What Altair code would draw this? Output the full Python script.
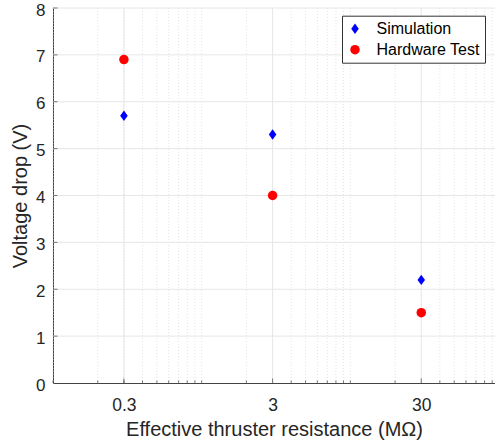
import altair as alt
import pandas as pd

resistance = [0.3, 3, 30]
simulation = [5.7, 5.3, 2.2]
hardware = [6.9, 4.0, 1.5]
series_names = ["Simulation", "Hardware Test"]
minor_grid = [m * 10 ** e for e in (-1, 0, 1) for m in range(1, 10)] + [100]
minor_grid = [v for v in minor_grid if v not in resistance]

df = pd.DataFrame({
    "R": resistance * 2,
    "V": simulation + hardware,
    "Series": [series_names[0]] * 3 + [series_names[1]] * 3,
})
grid_df = pd.DataFrame({"R": minor_grid})
major_df = pd.DataFrame({"R": resistance})
ygrid_df = pd.DataFrame({"V": list(range(1, 9))})

W, H = 442, 375
FONT = "Liberation Sans"
TXT = "#262626"
xscale = alt.Scale(type="log", domain=[0.1, 94])
yscale = alt.Scale(domain=[0, 8])

minor = alt.Chart(grid_df).mark_rule(color="#dcdcdc", strokeDash=[1, 2], strokeWidth=0.8).encode(
    x=alt.X("R:Q", scale=xscale)
)
major = alt.Chart(major_df).mark_rule(color="#e6e6e6", strokeWidth=1).encode(
    x=alt.X("R:Q", scale=xscale)
)
ygrid = alt.Chart(ygrid_df).mark_rule(color="#e6e6e6", strokeWidth=1).encode(
    y=alt.Y("V:Q", scale=yscale)
)
minor_ticks = alt.Chart(grid_df).mark_rule(color="#555555", strokeWidth=0.8).encode(
    x=alt.X("R:Q", scale=xscale), y=alt.value(H), y2=alt.value(H - 2.5)
)
major_ticks = alt.Chart(major_df).mark_rule(color="#555555", strokeWidth=0.8).encode(
    x=alt.X("R:Q", scale=xscale), y=alt.value(H), y2=alt.value(H - 4.5)
)
yticks = alt.Chart(ygrid_df).mark_rule(color="#555555", strokeWidth=0.8).encode(
    y=alt.Y("V:Q", scale=yscale), x=alt.value(0), x2=alt.value(4.5)
)

diamond = "M0,-1L0.72,0L0,1L-0.72,0Z"
points = alt.Chart(df).mark_point(filled=True, opacity=1, strokeWidth=0).encode(
    x=alt.X("R:Q", scale=xscale,
            axis=alt.Axis(values=resistance, format="~g", title="Effective thruster resistance (MΩ)",
                          grid=False, ticks=False, labelFontSize=17.5, titleFontSize=20,
                          titleFontWeight="normal",
                          labelColor=TXT, titleColor=TXT, labelFont=FONT, titleFont=FONT,
                          domainColor="#444444", labelPadding=13, titlePadding=6)),
    y=alt.Y("V:Q", scale=yscale,
            axis=alt.Axis(values=list(range(0, 9)), title="Voltage drop (V)", grid=False, ticks=False,
                          labelFontSize=17, labelOffset=2, titleFontSize=20, titleFontWeight="normal",
                          labelColor=TXT, titleColor=TXT,
                          labelFont=FONT, titleFont=FONT, domainColor="#444444",
                          labelPadding=8, titlePadding=5)),
    color=alt.Color("Series:N", scale=alt.Scale(domain=series_names, range=["#0000ff", "#ff0000"]),
                    legend=alt.Legend(title=None, orient="none", legendX=289, legendY=7.7,
                                      fillColor="white", strokeColor="#333333", padding=5,
                                      labelOffset=13.5,
                                      labelFontSize=16, labelFont=FONT, labelColor="#000000",
                                      rowPadding=5, symbolSize=40, offset=0)),
    shape=alt.Shape("Series:N", scale=alt.Scale(domain=series_names, range=[diamond, "circle"]), legend=None),
    size=alt.Size("Series:N", scale=alt.Scale(domain=series_names, range=[110, 90]), legend=None),
)

chart = alt.layer(minor, major, ygrid, minor_ticks, major_ticks, yticks, points).properties(
    width=W, height=H,
    autosize=alt.AutoSizeParams(type="none"),
    padding={"left": 53, "top": 8, "right": 0, "bottom": 63},
).configure_view(stroke=None)

chart.save("out.html", embed_options={"renderer": "svg", "actions": False})
